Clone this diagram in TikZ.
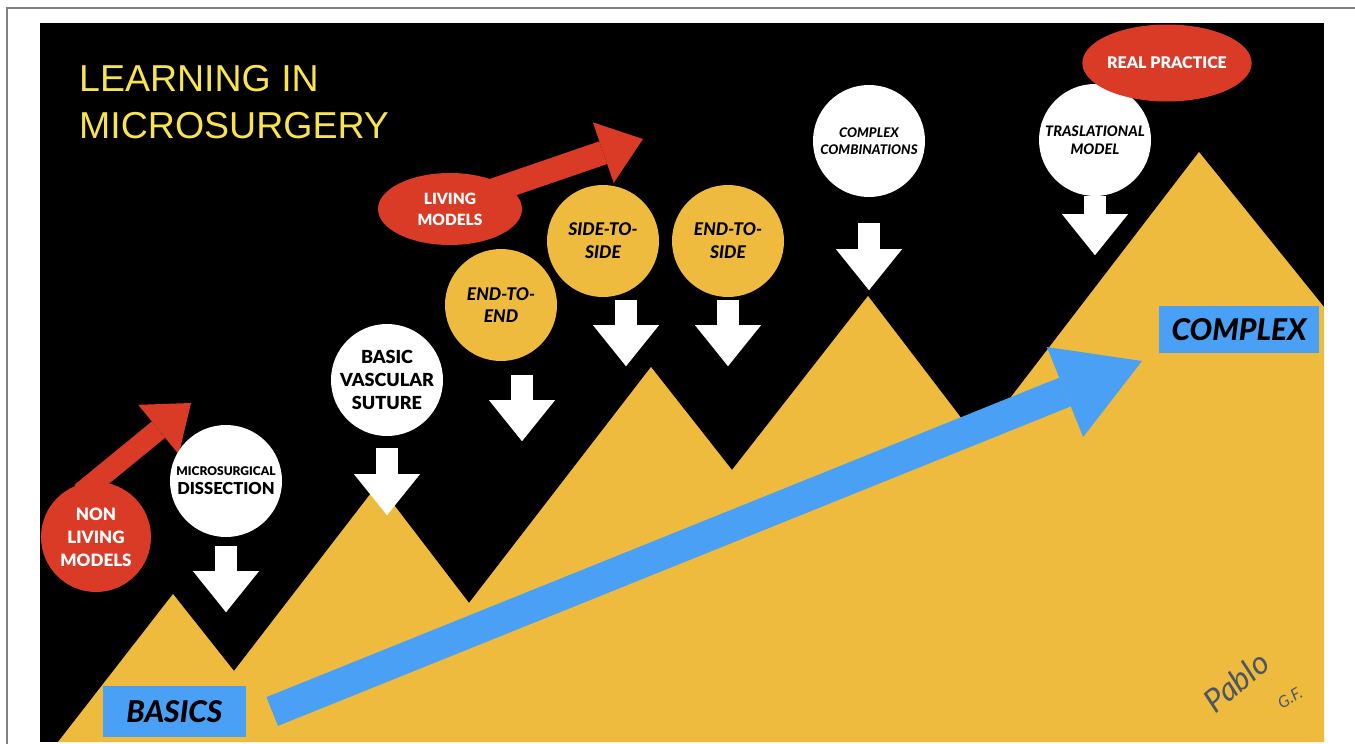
\documentclass[tikz,border=0pt]{standalone}
\usepackage{fontspec}
\setmainfont{Lato}[BoldFont={Lato Black},BoldItalicFont={Lato Black Italic}]
\newfontfamily\titlefont{Liberation Sans}
\usetikzlibrary{shapes.geometric,arrows.meta,backgrounds}
\definecolor{peakyellow}{RGB}{239,187,62}
\definecolor{modelred}{RGB}{217,59,39}
\definecolor{levelblue}{RGB}{74,160,245}
\definecolor{titleyellow}{RGB}{248,228,76}
\definecolor{signgray}{RGB}{75,85,99}
\newcommand{\fsz}[2]{\fontsize{#1}{#2}\selectfont}

\tikzset{
  stage/.style={circle,minimum size=112pt,inner sep=0pt,align=center,text=black},
  whitestage/.style={stage,fill=white},
  yellowstage/.style={stage,fill=peakyellow},
  redmodel/.style={fill=modelred,text=white,inner sep=0pt,align=center},
  levelbox/.style={fill=levelblue,text=black,inner sep=0pt,font=\bfseries\itshape\fsz{30}{30}},
  downarrow/.style={white,line width=22pt,-{Triangle[length=41pt,width=66pt,line width=0pt]}},
  redarrow/.style={modelred,line width=#1,-{Triangle[length=42pt,width=64pt,line width=0pt]}},
}

\begin{document}
\begin{tikzpicture}[x=1pt,y=-1pt]
    \useasboundingbox (0,0) rectangle (1355,744);
    \draw[gray,line width=1.5pt] (7,744) |- (1355,8);

    \node[anchor=north west,align=left,inner sep=0pt,text=titleyellow,font=\titlefont\fsz{37.5}{47}] (title) at (79,65) {LEARNING IN\\MICROSURGERY};

    \node[levelbox,minimum width=143pt,minimum height=51pt] (basics) at (174.5,711.5) {BASICS};
    \node[levelbox,minimum width=160pt,minimum height=47pt] (complex) at (1239,329.5) {COMPLEX};
    \coordinate (complextip) at (1142,361);
    \draw[levelblue,line width=31pt,-{Triangle[length=83pt,width=97pt,line width=0pt]}] ([xshift=26pt]basics.east) -- (complextip);

    \node[redmodel,circle,minimum size=110pt,font=\bfseries\fsz{17}{23}] (nonliving) at (96,537) {NON\\LIVING\\MODELS};
    \coordinate (nonlivingtip) at (191,403);
    \draw[redarrow=21pt] ([xshift=-15pt,yshift=44pt]nonliving.center) -- (nonlivingtip);

    \node[whitestage,font=\bfseries\fsz{16.5}{19}] (dissect) at (226,481) {{\fsz{12}{19}MICROSURGICAL}\\DISSECTION};
    \node[whitestage,font=\bfseries\fsz{18}{23}] (basicvasc) at (387,380) {BASIC\\VASCULAR\\SUTURE};
    \node[yellowstage,font=\bfseries\itshape\fsz{17.5}{22}] (endend) at (501,305) {END-TO-\\END};
    \node[yellowstage,font=\bfseries\itshape\fsz{17.5}{23}] (sideside) at (603,241) {SIDE-TO-\\SIDE};
    \node[yellowstage,font=\bfseries\itshape\fsz{17.5}{23}] (endside) at (728,241) {END-TO-\\SIDE};
    \node[whitestage,font=\bfseries\itshape\fsz{13.3}{17}] (combos) at (869,141) {COMPLEX\\COMBINATIONS};
    \node[whitestage,font=\bfseries\itshape\fsz{14.5}{18}] (traslat) at (1095,140) {TRASLATIONAL\\MODEL};

    \node[redmodel,ellipse,minimum width=144pt,minimum height=72pt,font=\bfseries\fsz{15.5}{21}] (living) at (450,209) {LIVING\\MODELS};
    \coordinate (livingtip) at (643,139);
    \draw[redarrow=24pt] ([xshift=30pt,yshift=14pt]living.center) -- (livingtip);

    \node[redmodel,ellipse,minimum width=143pt,minimum height=77pt,font=\bfseries\fsz{16}{18}] (realpract) at (1167,63) {REAL PRACTICE};

    \draw[downarrow] ([yshift=-9pt]dissect.south) -- ++(0,66);
    \draw[downarrow] ([yshift=-12pt]basicvasc.south) -- ++(0,67);
    \draw[downarrow] ([xshift=21pt,yshift=-14pt]endend.south) -- ++(0,66);
    \draw[downarrow] ([xshift=23pt,yshift=-3pt]sideside.south) -- ++(0,66);
    \draw[downarrow] ([yshift=-3pt]endside.south) -- ++(0,66);
    \draw[downarrow] ([yshift=-26pt]combos.south) -- ++(0,67);
    \draw[downarrow] (traslat.south) -- ++(0,59);

    \node[rotate=40,text=signgray,font=\itshape\fsz{32}{32}] (sign) at (1236,682) {Pablo};
    \node[rotate=30,text=signgray,font=\itshape\fsz{16}{16}] (signinit) at (1290,698) {G.F.};

    % Background
    \begin{scope}[on background layer]
        \fill[black] (40,23) rectangle (1324,742);
        \fill[peakyellow] (58,742) -- (173,594) -- (234,671) -- (378,484) -- (469,603) -- (651,367) -- (732,470)
            -- (868,296) -- (978,440) -- (1199,152) -- (1324,307) -- (1324,742) -- cycle;
    \end{scope}
\end{tikzpicture}
\end{document}
